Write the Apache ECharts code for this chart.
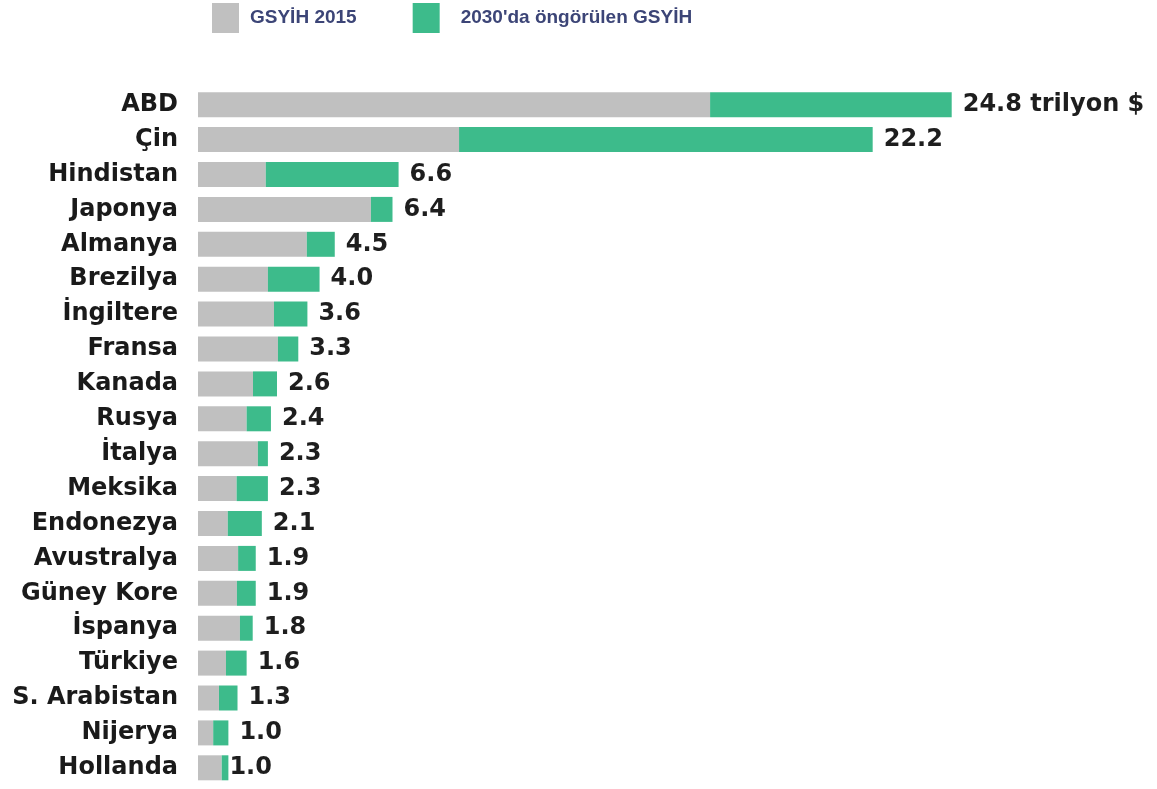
<!DOCTYPE html>
<html>
<head>
<meta charset="utf-8">
<script src="https://cdn.jsdelivr.net/npm/echarts@6/dist/echarts.min.js"></script>
<style>
html,body{margin:0;padding:0;background:#fff;}
#chart{width:1157px;height:789px;}
</style>
</head>
<body>
<div id="chart"></div>
<script>
const countries = ["ABD","Çin","Hindistan","Japonya","Almanya","Brezilya","İngiltere","Fransa","Kanada","Rusya","İtalya","Meksika","Endonezya","Avustralya","Güney Kore","İspanya","Türkiye","S. Arabistan","Nijerya","Hollanda"];
const gdp2015 = [16.85,8.59,2.23,5.69,3.58,2.30,2.50,2.63,1.81,1.60,1.97,1.27,0.98,1.32,1.28,1.38,0.92,0.69,0.50,0.78];
const gdp2030 = [24.8,22.2,6.6,6.4,4.5,4.0,3.6,3.3,2.6,2.4,2.3,2.3,2.1,1.9,1.9,1.8,1.6,1.3,1.0,1.0];
const seriesNames = ["GSYİH 2015","2030'da öngörülen GSYİH"];

const growth = gdp2030.map((v,i)=> +(v - gdp2015[i]).toFixed(3));

const chart = echarts.init(document.getElementById('chart'), null, {renderer:'canvas'});
const growthData = growth.map((v,i)=>{
  const item = {value: v};
  if (i === countries.length - 1) item.label = {distance: 1};
  return item;
});

chart.setOption({
  animation:false,
  backgroundColor:'#ffffff',
  legend:{
    left:212, top:3, padding:0,
    itemWidth:27, itemHeight:30, itemGap:56,
    icon:'rect',
    textStyle:{fontFamily:'Liberation Sans, Arial, sans-serif', fontWeight:'bold', fontSize:19, color:'#3c4577', padding:[0,0,0,6]},
    data:[
      {name:seriesNames[0]},
      {name:seriesNames[1], textStyle:{padding:[0,0,0,16]}}
    ]
  },
  grid:{left:198, right:205.3, top:87.25, bottom:3.75, containLabel:false},
  xAxis:{type:'value', min:0, max:24.8, show:false},
  yAxis:{
    type:'category', data:countries, inverse:true,
    axisLine:{show:false}, axisTick:{show:false}, splitLine:{show:false},
    axisLabel:{margin:20, fontFamily:'DejaVu Sans, sans-serif', fontWeight:'bold', fontSize:24, color:'#1a1a1a'}
  },
  series:[
    {name:seriesNames[0], type:'bar', stack:'gdp', data:gdp2015, barWidth:25,
     itemStyle:{color:'#c0c0c0'}},
    {name:seriesNames[1], type:'bar', stack:'gdp', data:growthData, barWidth:25,
     itemStyle:{color:'#3dbb8b'},
     label:{show:true, position:'right', distance:11,
       fontFamily:'DejaVu Sans, sans-serif', fontWeight:'bold', fontSize:24, color:'#1e1e1e',
       formatter:(p)=> p.dataIndex===0 ? gdp2030[0].toFixed(1)+' trilyon $' : gdp2030[p.dataIndex].toFixed(1)}
    }
  ]
});
</script>
</body>
</html>
